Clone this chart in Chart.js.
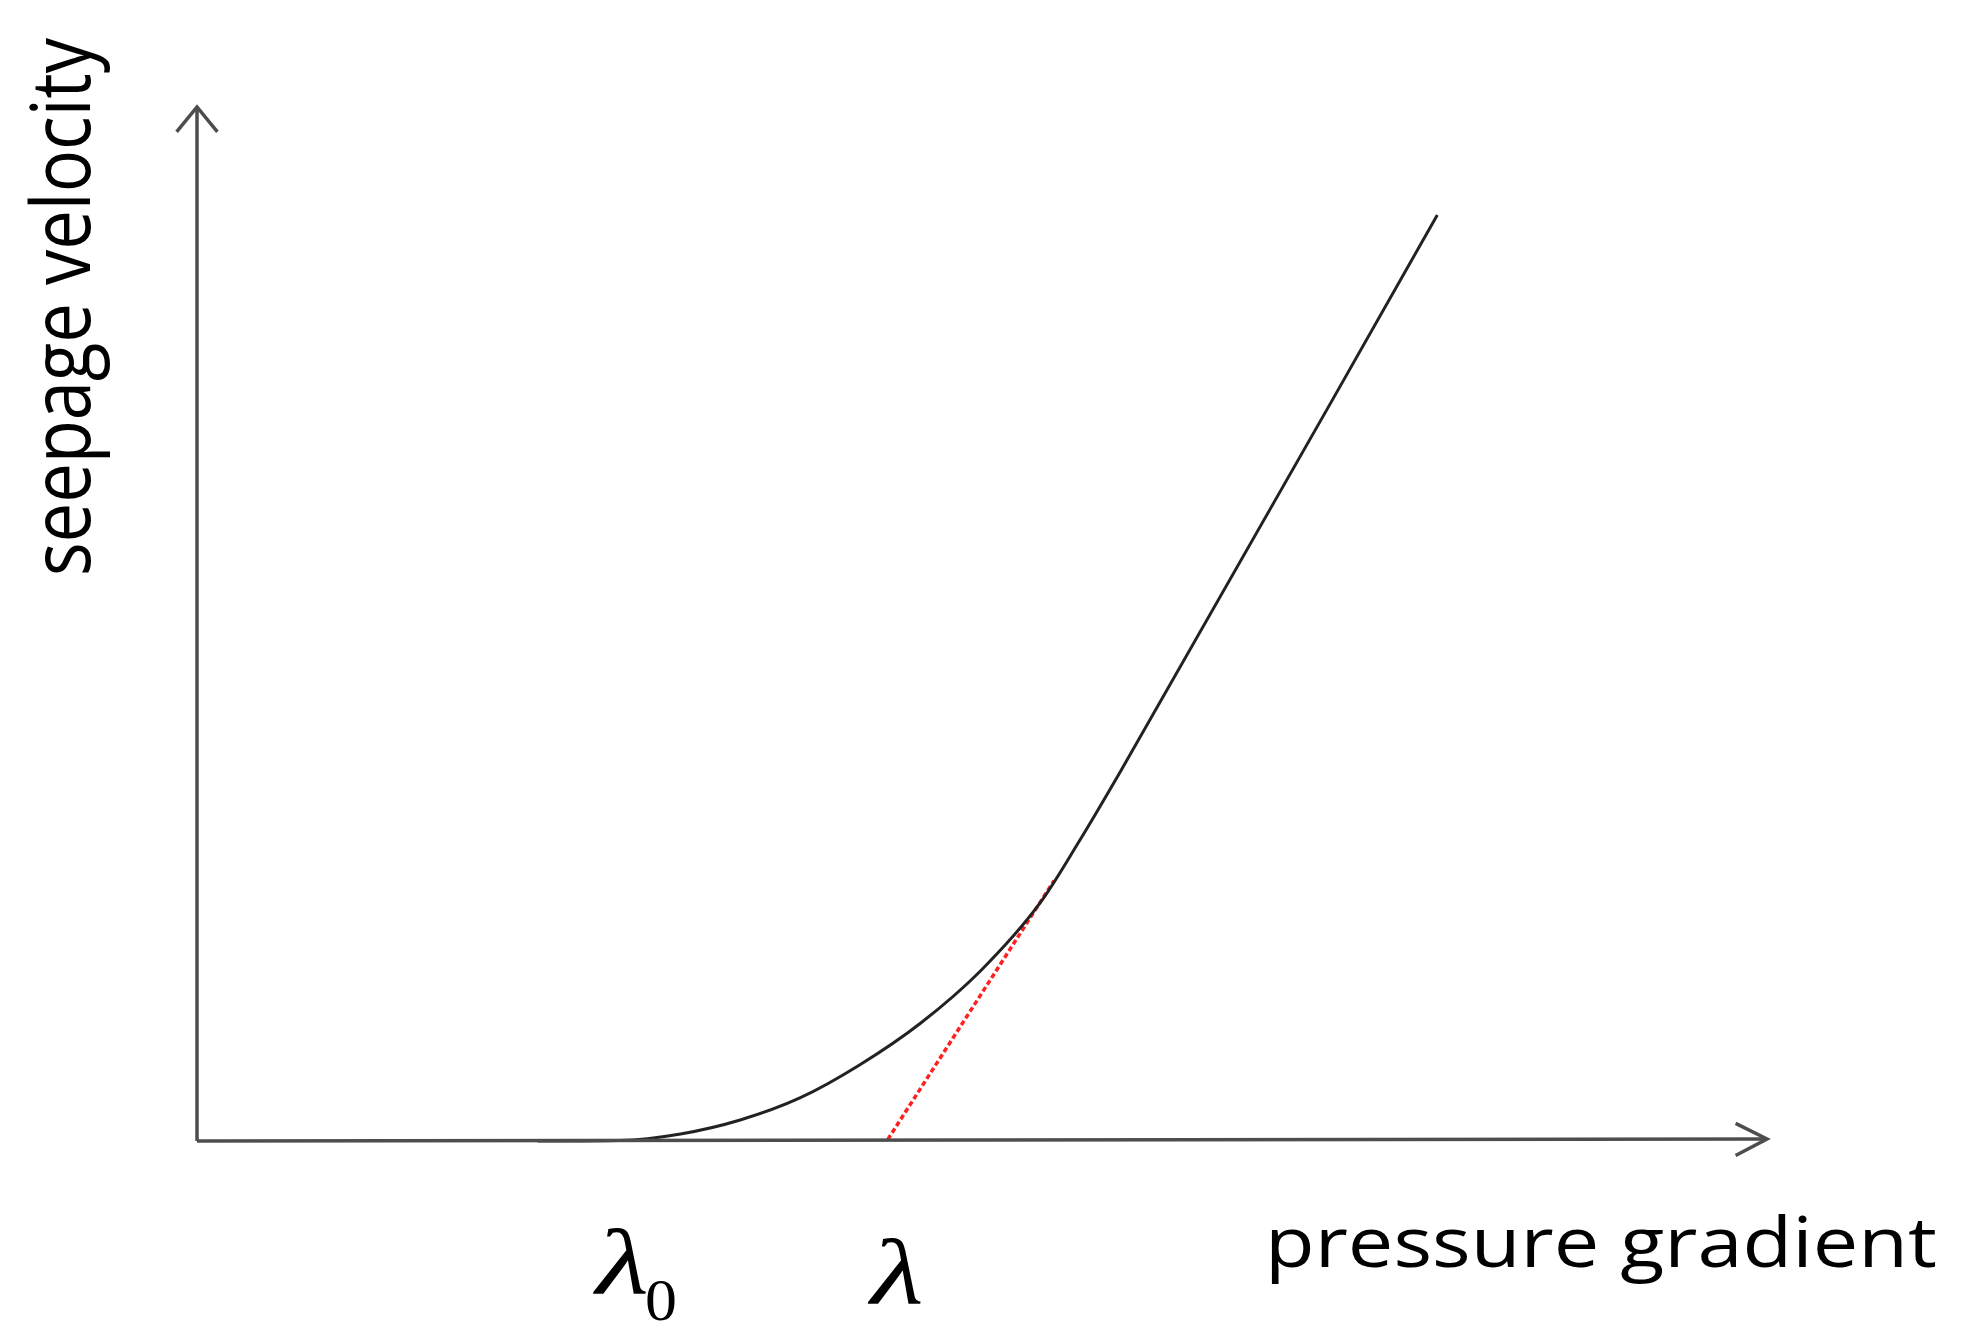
<!DOCTYPE html>
<html>
<head>
<meta charset="utf-8">
<script src="https://cdn.jsdelivr.net/npm/chart.js@4"></script>
<style>
  html, body { margin: 0; padding: 0; background: #fff; }
  #wrap { width: 1963px; height: 1332px; }
</style>
</head>
<body>
<div id="wrap"><canvas id="chart1" width="1963" height="1332"></canvas></div>
<script>
/************* data ********* */
// curve (pressure gradient vs seepage velocity), units 0..100 on both axes
const curveX = [21.7, 26.9, 30.8, 34.6, 38.4, 42.2, 46.1, 49.9, 53.7, 56.2, 58.8, 79.0];
const curveY = [0, 0.05, 0.68, 2.03, 4.16, 7.35, 11.41, 16.44, 23.02, 29.01, 35.69, 89.56];
// red dashed tangent
const tangentX = [44.0, 54.6];
const tangentY = [0.15, 25.2];
// axes with arrow heads
const xAxisX = [0, 100];
const xAxisY = [0, 0.2];
const xArrowX = [98.0, 100, 98.0];
const xArrowY = [1.7, 0.2, -1.4];
const yAxisX = [0, 0];
const yAxisY = [0, 100];
const yArrowX = [-1.3, 0, 1.3];
const yArrowY = [97.6, 100, 97.6];
// texts
const xTitle = 'pressure gradient';
const yTitle = 'seepage velocity';
const lambdaX = [27.1, 44.6];
const lambdaSub = ['0', ''];

function pts(xs, ys) {
    return xs.map((x, i) => ({x: x, y: ys[i]}));
}
function lineSet(xs, ys, color, width, dash, smooth) {
    return {
        data: pts(xs, ys),
        showLine: true,
        borderColor: color,
        borderWidth: width,
        borderDash: dash || [],
        pointRadius: 0,
        cubicInterpolationMode: smooth ? 'monotone' : 'default',
        tension: 0,
        fill: false,
        clip: false
    };
}

// text in the source figure looks stretched sideways
function stretchedText(ctx, txt, x, y, font, width) {
    ctx.save();
    ctx.font = font;
    const w = ctx.measureText(txt).width;
    ctx.translate(x, y);
    ctx.scale(width / w, 1);
    ctx.fillText(txt, 0, 0);
    ctx.restore();
}

const labelsPlugin = {
    id: 'labels',
    afterDraw(chart) {
        const ctx = chart.ctx;
        const xs = chart.scales.x;
        ctx.save();
        ctx.fillStyle = '#000';
        ctx.textBaseline = 'alphabetic';
        ctx.textAlign = 'left';
        // x title
        stretchedText(ctx, xTitle, 1265, 1267, '69px "Open Sans"', 672);
        // y title
        ctx.save();
        ctx.translate(90, 576);
        ctx.rotate(-Math.PI / 2);
        stretchedText(ctx, yTitle, 0, 0, '82px "Open Sans"', 538);
        ctx.restore();
        // lambda labels
        lambdaX.forEach((v, i) => {
            const px = xs.getPixelForValue(v);
            const base = i === 0 ? 1293 : 1303;
            ctx.font = 'italic 94px "Liberation Serif"';
            const w = ctx.measureText('\u03bb').width * 1.3;
            stretchedText(ctx, '\u03bb', px - w / 2, base, 'italic 94px "Liberation Serif"', w);
            if (lambdaSub[i]) {
                stretchedText(ctx, lambdaSub[i], px + w / 2 - 4, base + 27, '60px "Liberation Serif"', 32);
            }
        });
        ctx.restore();
    }
};

new Chart("chart1", {
    type: "scatter",
    data: {
        datasets: [
            lineSet(xAxisX, xAxisY, '#4d4d4d', 3.5),
            lineSet(xArrowX, xArrowY, '#4d4d4d', 3.5),
            lineSet(yAxisX, yAxisY, '#4d4d4d', 3.5),
            lineSet(yArrowX, yArrowY, '#4d4d4d', 3.5),
            lineSet(curveX, curveY, '#222', 3, null, true),
            lineSet(tangentX, tangentY, '#ff2020', 3.5, [5, 3])
        ]
    },
    options: {
        responsive: false,
        animation: false,
        layout: {
            padding: {left: 197, right: 196, top: 107, bottom: 191}
        },
        scales: {
            x: {type: 'linear', min: 0, max: 100, display: false},
            y: {type: 'linear', min: 0, max: 100, display: false}
        },
        plugins: {
            legend: {display: false},
            tooltip: {enabled: false}
        }
    },
    plugins: [labelsPlugin]
});
</script>
</body>
</html>
